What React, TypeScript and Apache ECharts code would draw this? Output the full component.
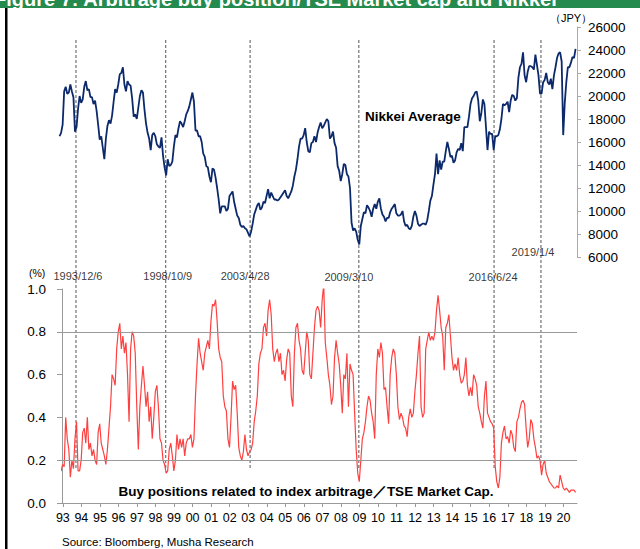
import React, { useEffect, useRef } from "react";
import * as echarts from "echarts";

// ---------- data ----------
const START_YEAR = 1993;

// Nikkei Average, monthly (JPY)
const nikkei1993 = [16500, 16800, 17500, 20400, 20800, 20200, 20300, 21000, 20400, 19900, 16900, 17300];
const nikkei1994 = [18900, 20000, 19400, 19700, 20800, 21300, 20500, 20600, 19900, 19900, 19300, 19600];
const nikkei1995 = [18700, 17500, 16200, 16500, 15500, 14500, 16300, 17400, 17900, 17600, 18300, 19500];
const nikkei1996 = [20600, 20300, 21000, 21900, 22000, 22500, 21000, 20400, 21300, 21000, 20900, 19800];
const nikkei1997 = [18200, 18400, 18000, 19000, 20000, 20500, 20300, 18800, 17600, 16800, 16300, 15300];
const nikkei1998 = [16600, 16800, 16500, 15800, 15600, 15500, 16400, 14800, 13800, 13100, 14500, 13900];
const nikkei1999 = [14000, 14300, 15600, 16600, 16400, 17200, 17800, 17600, 17300, 17800, 18400, 18700];
const nikkei2000 = [19100, 19700, 20300, 19500, 17000, 17000, 16500, 16500, 16000, 15000, 14700, 13900];
const nikkei2001 = [13800, 13000, 12500, 13700, 13600, 12900, 12000, 11000, 9800, 10400, 10400, 10400];
const nikkei2002 = [10000, 10200, 11300, 11500, 11700, 10800, 10200, 9600, 9400, 8800, 8600, 8700];
const nikkei2003 = [8500, 8400, 8100, 7800, 8200, 8900, 9700, 10100, 10500, 10700, 10100, 10300];
const nikkei2004 = [10800, 10700, 11300, 11900, 11100, 11600, 11300, 11000, 11000, 10900, 11000, 11200];
const nikkei2005 = [11400, 11600, 11800, 11300, 11100, 11400, 11700, 12200, 13000, 13600, 14500, 15600];
const nikkei2006 = [16300, 16300, 16600, 17200, 16000, 15200, 15100, 15900, 16000, 16500, 16000, 16800];
const nikkei2007 = [17300, 17700, 17200, 17400, 17700, 18000, 17800, 16300, 16500, 16900, 15900, 15500];
const nikkei2008 = [13900, 13500, 12600, 13200, 14100, 14000, 13200, 13000, 12000, 9000, 8300, 8500];
const nikkei2009 = [8200, 7500, 7100, 8700, 9300, 9900, 9800, 10500, 10300, 10000, 9500, 10200];
const nikkei2010 = [10600, 10200, 10800, 11100, 10200, 9700, 9500, 9100, 9400, 9400, 9900, 10200];
const nikkei2011 = [10400, 10600, 9800, 9600, 9600, 9700, 10000, 9100, 8700, 8800, 8500, 8400];
const nikkei2012 = [8700, 9500, 10000, 9600, 8900, 8700, 8800, 8900, 8900, 8800, 9200, 10000];
const nikkei2013 = [10900, 11300, 12300, 13200, 15000, 13200, 14400, 13600, 14300, 14300, 15200, 16000];
const nikkei2014 = [15400, 14700, 14800, 14200, 14400, 15100, 15400, 15300, 15900, 15200, 17300, 17300];
const nikkei2015 = [17300, 18200, 19300, 19800, 20000, 20300, 20400, 19600, 17800, 18500, 19700, 19300];
const nikkei2016 = [17300, 15300, 16900, 16700, 16700, 15300, 16500, 16500, 16600, 17100, 18000, 19300];
const nikkei2017 = [19200, 19300, 19500, 18600, 19600, 20100, 20000, 19600, 19800, 21600, 22500, 22800];
const nikkei2018 = [23800, 21800, 21200, 22100, 22600, 22600, 22500, 22300, 23600, 22700, 21800, 20200];
const nikkei2019 = [20200, 21200, 21400, 22000, 21200, 21000, 21500, 20600, 21800, 22500, 23300, 23700];
const nikkei2020 = [23800, 23000, 16600, 19400, 21200, 22500, 22500, 22900, 23400, 23300, 24100];

// Buy positions related to index arbitrage / TSE market cap (%), monthly
const arb1993 = [0.15, 0.15, 0.18, 0.17, 0.40, 0.30, 0.25, 0.12, 0.20, 0.16, 0.30, 0.38];
const arb1994 = [0.15, 0.15, 0.20, 0.33, 0.35, 0.28, 0.40, 0.25, 0.28, 0.22, 0.25, 0.20];
const arb1995 = [0.18, 0.33, 0.37, 0.28, 0.25, 0.22, 0.18, 0.25, 0.35, 0.45, 0.60, 0.58];
const arb1996 = [0.55, 0.72, 0.80, 0.84, 0.72, 0.78, 0.70, 0.75, 0.60, 0.38, 0.72, 0.80];
const arb1997 = [0.78, 0.70, 0.45, 0.25, 0.45, 0.55, 0.64, 0.55, 0.45, 0.52, 0.38, 0.45];
const arb1998 = [0.30, 0.40, 0.52, 0.55, 0.45, 0.30, 0.28, 0.20, 0.18, 0.14, 0.15, 0.25];
const arb1999 = [0.28, 0.22, 0.15, 0.20, 0.32, 0.25, 0.30, 0.26, 0.30, 0.22, 0.28, 0.30];
const arb2000 = [0.30, 0.32, 0.26, 0.30, 0.50, 0.65, 0.77, 0.70, 0.66, 0.62, 0.70, 0.73];
const arb2001 = [0.76, 0.72, 0.85, 0.93, 0.92, 0.95, 0.85, 0.72, 0.68, 0.66, 0.50, 0.45];
const arb2002 = [0.43, 0.30, 0.26, 0.40, 0.57, 0.53, 0.55, 0.42, 0.26, 0.22, 0.20, 0.24];
const arb2003 = [0.32, 0.25, 0.22, 0.24, 0.25, 0.28, 0.38, 0.43, 0.50, 0.65, 0.70, 0.72];
const arb2004 = [0.82, 0.84, 0.78, 0.90, 0.95, 0.88, 0.72, 0.66, 0.70, 0.72, 0.66, 0.70];
const arb2005 = [0.60, 0.62, 0.57, 0.67, 0.72, 0.70, 0.50, 0.45, 0.70, 0.82, 0.84, 0.76];
const arb2006 = [0.72, 0.62, 0.60, 0.70, 0.80, 0.76, 0.60, 0.58, 0.70, 0.82, 0.90, 0.92];
const arb2007 = [0.90, 0.82, 0.95, 1.02, 0.75, 0.68, 0.60, 0.55, 0.46, 0.50, 0.68, 0.76];
const arb2008 = [0.70, 0.65, 0.55, 0.42, 0.60, 0.58, 0.70, 0.45, 0.65, 0.62, 0.60, 0.42];
const arb2009 = [0.25, 0.14, 0.10, 0.20, 0.30, 0.33, 0.38, 0.45, 0.50, 0.48, 0.42, 0.38];
const arb2010 = [0.30, 0.60, 0.72, 0.68, 0.75, 0.70, 0.53, 0.54, 0.45, 0.37, 0.60, 0.68];
const arb2011 = [0.72, 0.70, 0.60, 0.45, 0.39, 0.42, 0.40, 0.36, 0.35, 0.31, 0.40, 0.44];
const arb2012 = [0.40, 0.42, 0.52, 0.60, 0.70, 0.78, 0.45, 0.40, 0.42, 0.72, 0.76, 0.80];
const arb2013 = [0.76, 0.78, 0.76, 0.80, 0.90, 0.97, 0.90, 0.82, 0.78, 0.62, 0.82, 0.84];
const arb2014 = [0.88, 0.78, 0.68, 0.62, 0.65, 0.62, 0.68, 0.60, 0.56, 0.57, 0.60, 0.68];
const arb2015 = [0.55, 0.50, 0.54, 0.50, 0.60, 0.58, 0.55, 0.45, 0.42, 0.38, 0.35, 0.50];
const arb2016 = [0.57, 0.42, 0.40, 0.38, 0.37, 0.35, 0.17, 0.10, 0.07, 0.12, 0.28, 0.33];
const arb2017 = [0.36, 0.30, 0.31, 0.28, 0.34, 0.32, 0.26, 0.24, 0.38, 0.40, 0.44, 0.47];
const arb2018 = [0.48, 0.46, 0.35, 0.26, 0.30, 0.39, 0.37, 0.30, 0.26, 0.21, 0.22, 0.20];
const arb2019 = [0.13, 0.18, 0.20, 0.14, 0.12, 0.10, 0.09, 0.08, 0.07, 0.07, 0.08, 0.07];
const arb2020 = [0.13, 0.10, 0.07, 0.06, 0.07, 0.06, 0.05, 0.06, 0.06, 0.06, 0.05];

const nikkeiByYear = [
  nikkei1993, nikkei1994, nikkei1995, nikkei1996, nikkei1997, nikkei1998, nikkei1999,
  nikkei2000, nikkei2001, nikkei2002, nikkei2003, nikkei2004, nikkei2005, nikkei2006,
  nikkei2007, nikkei2008, nikkei2009, nikkei2010, nikkei2011, nikkei2012, nikkei2013,
  nikkei2014, nikkei2015, nikkei2016, nikkei2017, nikkei2018, nikkei2019, nikkei2020,
];
const arbByYear = [
  arb1993, arb1994, arb1995, arb1996, arb1997, arb1998, arb1999,
  arb2000, arb2001, arb2002, arb2003, arb2004, arb2005, arb2006,
  arb2007, arb2008, arb2009, arb2010, arb2011, arb2012, arb2013,
  arb2014, arb2015, arb2016, arb2017, arb2018, arb2019, arb2020,
];

// key dates (vertical dashed lines)
const eventDates = ["1993/12/6", "1998/10/9", "2003/4/28", "2009/3/10", "2016/6/24", "2019/1/4"];

// x-axis year tick labels
const yearLabels = ["93","94","95","96","97","98","99","00","01","02","03","04","05","06","07","08","09","10","11","12","13","14","15","16","17","18","19","20"];

// ---------- layout (not data) ----------
const eventLabelLayout = [
  { dx: 2, y: 276 },
  { dx: 2, y: 276 },
  { dx: -5, y: 276 },
  { dx: -10, y: 277 },
  { dx: -1, y: 277 },
  { dx: -8, y: 252 },
];
const TICK_OFFSET = 0.22; // excel date axis ticks fall a bit after Jan 1
const FONT = "'Liberation Sans', Arial, sans-serif";

function toSeries(byYear: number[][]) {
  const out: number[][] = [];
  byYear.forEach((arr, i) => {
    arr.forEach((v, m) => out.push([START_YEAR + i + (m + 0.5) / 12, v]));
  });
  return out;
}

function dateToYear(s: string) {
  const [y, m, d] = s.split("/").map(Number);
  const start = Date.UTC(y, 0, 1);
  const end = Date.UTC(y + 1, 0, 1);
  const cur = Date.UTC(y, m - 1, d);
  return y + (cur - start) / (end - start);
}

export default function App() {
  const ref = useRef<HTMLDivElement>(null);

  useEffect(() => {
    if (!ref.current) return;
    const chart = echarts.init(ref.current, undefined, { renderer: "svg" });

    const nikkeiData = toSeries(nikkeiByYear);
    const arbData = toSeries(arbByYear);
    const tickVals = yearLabels.map((_, i) => START_YEAR + i + TICK_OFFSET);
    const eventT = eventDates.map(dateToYear);

    const eventLineSeries = eventT.map((t) => ({
      type: "line",
      xAxisIndex: 2,
      yAxisIndex: 2,
      data: [[t, 40], [t, 470]],
      symbol: "none",
      silent: true,
      z: 1,
      lineStyle: { color: "#555", width: 1, type: [3, 2] },
    }));

    const option: any = {
      animation: false,
      backgroundColor: "#ffffff",
      grid: [
        { left: 58, width: 519, top: 27, height: 230 },
        { left: 62, width: 515, top: 289, height: 214 },
        { left: 62, width: 515, top: 40, height: 430 },
      ],
      xAxis: [
        { type: "value", gridIndex: 0, min: 1992.959, max: 2020.952, show: false },
        {
          type: "value",
          gridIndex: 1,
          min: 1993.175,
          max: 2020.952,
          axisLine: { show: true, lineStyle: { color: "#999", width: 1 } },
          axisTick: { show: true, length: 4, customValues: tickVals, lineStyle: { color: "#999" } },
          axisLabel: {
            customValues: tickVals,
            formatter: (v: number) => {
              const i = Math.round(v - TICK_OFFSET - START_YEAR);
              return yearLabels[i] ?? "";
            },
            color: "#000",
            fontFamily: FONT,
            fontSize: 12.5,
            margin: 8,
          },
          splitLine: { show: false },
        },
        { type: "value", gridIndex: 2, min: 1993.175, max: 2020.952, show: false },
      ],
      yAxis: [
        {
          type: "value",
          gridIndex: 0,
          position: "right",
          min: 6000,
          max: 26000,
          interval: 2000,
          axisLine: { show: true, lineStyle: { color: "#aaa", width: 1 } },
          axisTick: { show: true, length: 4, lineStyle: { color: "#aaa" } },
          axisLabel: {
            color: "#000",
            fontFamily: FONT,
            fontSize: 13.5,
            margin: 11,
            formatter: (v: number) => String(v),
          },
          splitLine: { show: false },
        },
        {
          type: "value",
          gridIndex: 1,
          min: 0,
          max: 1,
          interval: 0.2,
          axisLine: { show: true, lineStyle: { color: "#999", width: 1 } },
          axisTick: { show: true, length: 5, lineStyle: { color: "#999" } },
          axisLabel: {
            color: "#000",
            fontFamily: FONT,
            fontSize: 13.5,
            margin: 16,
            formatter: (v: number) => v.toFixed(1),
          },
          splitLine: { show: false },
        },
        { type: "value", gridIndex: 2, min: 40, max: 470, inverse: true, show: false },
      ],
      series: [
        ...eventLineSeries,
        {
          type: "scatter",
          xAxisIndex: 2,
          yAxisIndex: 2,
          symbolSize: 0,
          silent: true,
          z: 3,
          data: eventDates.map((d, i) => ({
            name: d,
            value: [eventT[i], eventLabelLayout[i].y],
            label: { offset: [eventLabelLayout[i].dx, 0] },
          })),
          label: {
            show: true,
            position: "inside",
            formatter: (p: any) => p.name,
            color: "#000",
            fontFamily: FONT,
            fontSize: 11,
          },
        },
        {
          type: "line",
          name: "Nikkei Average",
          xAxisIndex: 0,
          yAxisIndex: 0,
          data: nikkeiData,
          symbol: "none",
          z: 2,
          lineStyle: { color: "#0c2a6b", width: 1.8 },
        },
        {
          type: "line",
          name: "Arbitrage",
          xAxisIndex: 1,
          yAxisIndex: 1,
          data: arbData,
          symbol: "none",
          z: 2,
          lineStyle: { color: "#ff4040", width: 1.2 },
          markLine: {
            silent: true,
            symbol: ["none", "none"],
            label: { show: false },
            lineStyle: { color: "#999", type: "solid", width: 1 },
            data: [{ yAxis: 0.2 }, { yAxis: 0.8 }],
          },
        },
      ],
      graphic: [
        { type: "rect", shape: { x: 0, y: 0, width: 640, height: 8 }, style: { fill: "#258a4e" }, z: 10 },
        {
          type: "text",
          x: -6,
          y: 9,
          z: 11,
          style: {
            text: "Figure 7: Arbitrage buy position/TSE Market cap and Nikkei",
            fill: "#ffffff",
            font: `bold 20px ${FONT}`,
            verticalAlign: "bottom",
          },
        },
        { type: "rect", shape: { x: 0, y: 8, width: 640, height: 4 }, style: { fill: "#ffffff" }, z: 11 },
        { type: "rect", shape: { x: 5, y: 8, width: 2.5, height: 541 }, style: { fill: "#000" }, z: 12 },
        {
          type: "text",
          x: 550,
          y: 17.5,
          style: { text: "（JPY）", fill: "#000", font: `11px ${FONT}`, verticalAlign: "middle" },
        },
        {
          type: "text",
          x: 29,
          y: 273,
          style: { text: "(%)", fill: "#000", font: `10.5px ${FONT}`, verticalAlign: "middle" },
        },
        {
          type: "text",
          x: 365,
          y: 116.5,
          style: { text: "Nikkei Average", fill: "#000", font: `bold 13.5px ${FONT}`, verticalAlign: "middle" },
        },
        {
          type: "text",
          x: 306,
          y: 491,
          style: {
            text: "Buy positions related to index arbitrage／TSE Market Cap.",
            fill: "#000",
            font: `bold 13.5px ${FONT}`,
            align: "center",
            verticalAlign: "middle",
          },
        },
        {
          type: "text",
          x: 62,
          y: 542,
          style: { text: "Source: Bloomberg, Musha Research", fill: "#000", font: `11.5px ${FONT}`, verticalAlign: "middle" },
        },
      ],
    };

    chart.setOption(option);
    return () => chart.dispose();
  }, []);

  return (
    <div
      ref={ref}
      style={{ position: "absolute", left: 0, top: 0, width: 640, height: 549, overflow: "hidden" }}
    />
  );
}
